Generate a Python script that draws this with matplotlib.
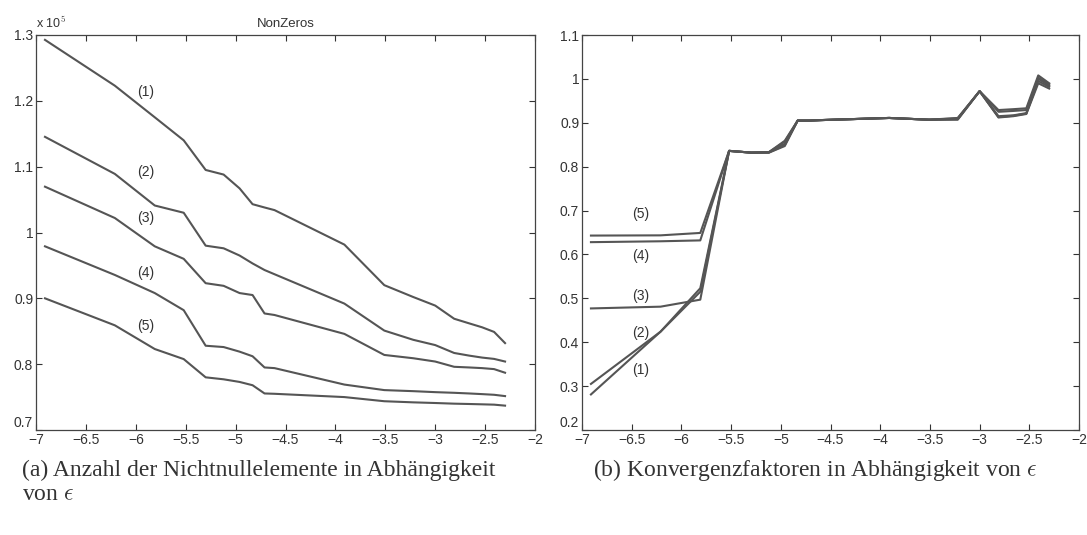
import numpy as np
import matplotlib.pyplot as plt

# x = ln(epsilon), epsilon = 0.001 ... 0.1
eps_log = [-6.91, -6.21, -5.81, -5.52, -5.30, -5.12, -4.96, -4.83, -4.71, -4.61,
           -3.91, -3.51, -3.22, -3.00, -2.81, -2.66, -2.53, -2.41, -2.30]

# (a) number of nonzeros
nz1 = [129260, 122300, 117500, 114000, 109500, 108800, 106700, 104300, 103800, 103400,
       98160, 92000, 90200, 88900, 86900, 86200, 85600, 84900, 83200]
nz2 = [114530, 108900, 104100, 103000, 98000, 97600, 96500, 95300, 94300, 93660,
       89200, 85100, 83700, 82900, 81700, 81300, 81000, 80800, 80400]
nz3 = [106960, 102200, 97900, 96000, 92300, 91900, 90800, 90500, 87700, 87470,
       84600, 81400, 80900, 80400, 79600, 79500, 79400, 79250, 78700]
nz4 = [97900, 93550, 90800, 88200, 82800, 82600, 81900, 81200, 79500, 79400,
       76900, 76060, 75900, 75750, 75650, 75550, 75450, 75350, 75150]
nz5 = [90000, 85900, 82300, 80770, 78000, 77700, 77300, 76800, 75550, 75500,
       75000, 74370, 74200, 74100, 74000, 73950, 73900, 73850, 73700]

# (b) convergence factors
cf1 = [0.281, 0.424, 0.523, 0.836, 0.832, 0.832, 0.847, 0.905, 0.905, 0.906,
       0.911, 0.907, 0.907, 0.972, 0.912, 0.915, 0.920, 0.990, 0.978]
cf2 = [0.305, 0.424, 0.515, 0.836, 0.832, 0.832, 0.849, 0.905, 0.905, 0.906,
       0.911, 0.907, 0.908, 0.972, 0.913, 0.916, 0.921, 0.995, 0.982]
cf3 = [0.477, 0.481, 0.497, 0.836, 0.832, 0.833, 0.852, 0.905, 0.905, 0.906,
       0.911, 0.907, 0.909, 0.972, 0.915, 0.917, 0.922, 1.000, 0.985]
cf4 = [0.628, 0.630, 0.632, 0.836, 0.832, 0.833, 0.857, 0.905, 0.905, 0.906,
       0.911, 0.907, 0.910, 0.972, 0.925, 0.927, 0.929, 1.003, 0.988]
cf5 = [0.643, 0.6435, 0.649, 0.836, 0.832, 0.833, 0.859, 0.905, 0.905, 0.906,
       0.911, 0.907, 0.911, 0.972, 0.929, 0.931, 0.933, 1.008, 0.990]

curve_names = ['(1)', '(2)', '(3)', '(4)', '(5)']
lab_a_x, lab_a_y = -5.90, [1.2128, 1.0915, 1.0215, 0.938, 0.858]
lab_b_x, lab_b_y = -6.41, [0.336, 0.420, 0.5053, 0.5955, 0.692]

xticks = [-7, -6.5, -6, -5.5, -5, -4.5, -4, -3.5, -3, -2.5, -2]
yticks_a = [0.7, 0.8, 0.9, 1.0, 1.1, 1.2, 1.3]
yticks_b = [0.2, 0.3, 0.4, 0.5, 0.6, 0.7, 0.8, 0.9, 1.0, 1.1]

line_col = '#555555'
plt.rcParams['font.family'] = ['Liberation Sans', 'DejaVu Sans']
plt.rcParams['mathtext.fontset'] = 'cm'

fig = plt.figure(figsize=(10.87, 5.35), dpi=100)
ax1 = fig.add_axes([36/1087, 105/535, 499/1087, 395/535])
ax2 = fig.add_axes([582/1087, 105/535, 497/1087, 395/535])


def fmt(v):
    s = f'{v:g}'
    return s.replace('-', '\u2212')


def style(ax, yticks):
    ax.set_xlim(-7, -2)
    ax.set_xticks(xticks)
    ax.set_xticklabels([fmt(t) for t in xticks])
    ax.set_yticks(yticks)
    ax.set_yticklabels([fmt(t) for t in yticks])
    ax.tick_params(direction='in', top=True, right=True, length=4, width=0.8,
                   labelsize=10, colors='#333333', pad=2)
    # bottom y label sits a little higher, as in MATLAB output
    ax.get_yticklabels()[0].set_va('bottom')
    for sp in ax.spines.values():
        sp.set_color('#444444')
        sp.set_linewidth(0.9)


# (a)
for ys in [nz1, nz2, nz3, nz4, nz5]:
    ax1.plot(eps_log, np.array(ys) / 1e5, color=line_col, lw=1.5)
for name, yy in zip(curve_names, lab_a_y):
    ax1.text(lab_a_x, yy, name, fontsize=10, color='#333333', ha='center', va='center')
style(ax1, yticks_a)
ax1.set_ylim(0.7, 1.3)
ax1.set_title('NonZeros', fontsize=9.5, color='#333333', pad=6)
ax1.text(0.0, 1.01, r'x 10$^5$', transform=ax1.transAxes, fontsize=9,
         color='#333333', ha='left', va='bottom')

# (b)
for ys in [cf1, cf2, cf3, cf4, cf5]:
    ax2.plot(eps_log, ys, color=line_col, lw=1.5)
for name, yy in zip(curve_names, lab_b_y):
    ax2.text(lab_b_x, yy, name, fontsize=10, color='#333333', ha='center', va='center')
style(ax2, yticks_b)
ax2.set_ylim(0.2, 1.1)

# captions
cap_kw = dict(family='Liberation Serif', fontsize=17, color='#333333', va='center')
fig.text(22/1087, 1 - 470/535, '(a) Anzahl der Nichtnullelemente in Abhängigkeit', **cap_kw)
fig.text(22/1087, 1 - 494/535, r'von $\epsilon$', **cap_kw)
fig.text(593/1087, 1 - 470/535, r'(b) Konvergenzfaktoren in Abhängigkeit von $\epsilon$', **cap_kw)

fig.savefig('out.png', dpi=100)
